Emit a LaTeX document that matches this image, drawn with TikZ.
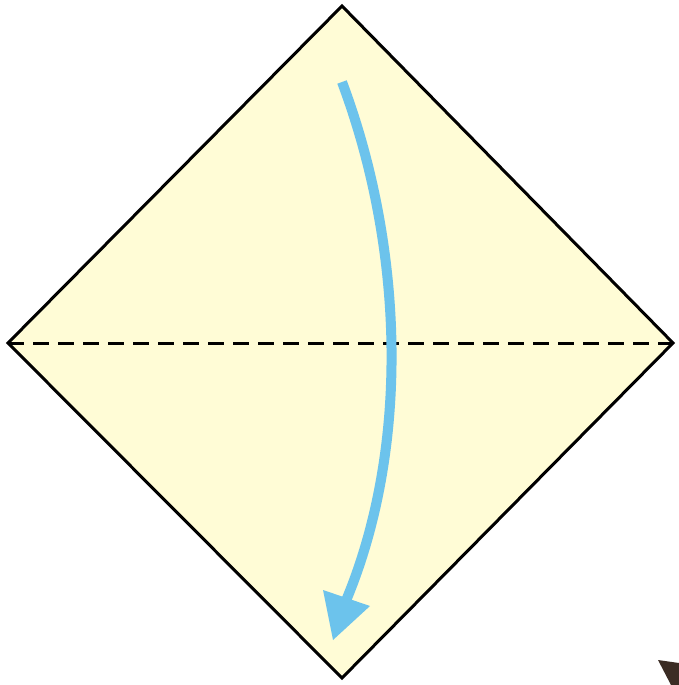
\documentclass[tikz,border=0pt]{standalone}
\definecolor{paper}{HTML}{FFFCD6}
\definecolor{arrowblue}{HTML}{6CC3EC}
\definecolor{markbrown}{HTML}{3B2C24}
\tikzset{
  edge/.style={draw=black, line width=3pt, line join=miter},
  fold/.style={draw=black, line width=3pt, dash pattern=on 16pt off 9pt},
  shaft/.style={draw=arrowblue, line width=10pt},
  tip/.style={fill=arrowblue}
}
\begin{document}
\begin{tikzpicture}[x=1pt,y=-1pt]
\useasboundingbox (0,0) rectangle (679,685);
\fill[white] (0,0) rectangle (679,685);
\coordinate (T) at (342,6);
\coordinate (L) at (8,343);
\coordinate (R) at (673,343);
\coordinate (B) at (342,678);
\filldraw[edge, fill=paper] (T) -- (R) -- (B) -- (L) -- cycle;
\draw[fold] (L) -- (R);
\coordinate (s) at (342,82);
\coordinate (e) at (345,603);
\draw[shaft] (s) .. controls (405,250) and (410,450) .. (e);
\fill[tip] (323,590) -- (370,606) -- (333,640) -- cycle;
\fill[markbrown] (658,660) -- (679,663) -- (679,685) -- (671,685) -- cycle;
\end{tikzpicture}
\end{document}
